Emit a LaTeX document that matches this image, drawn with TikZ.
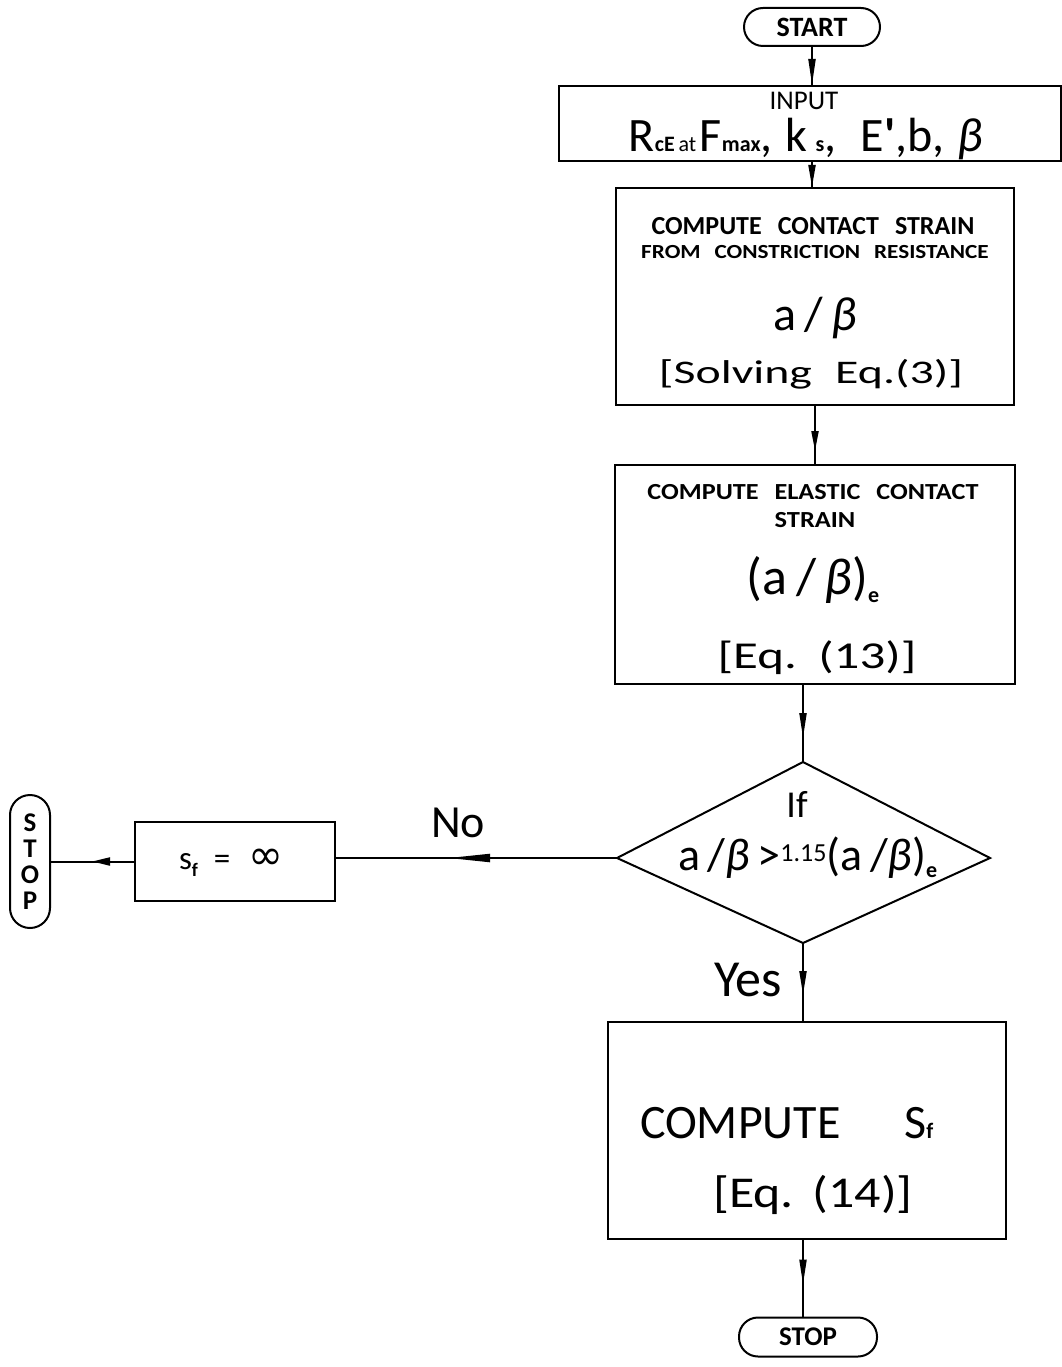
\documentclass[tikz,border=0pt]{standalone}
\usepackage{graphicx}
\usepackage{fontspec}
\setmainfont{Carlito}
\newfontfamily\djv{DejaVu Sans}
\newfontfamily\plainq{Carlito}
\usetikzlibrary{shapes.geometric,arrows.meta,decorations.markings}
\newcommand\fsz[1]{\fontsize{#1}{#1}\selectfont}
\newcommand\wx[2]{\scalebox{#1}[1]{#2}}
\begin{document}
\begin{tikzpicture}[x=1pt,y=-1pt,line width=2pt,
  box/.style={draw,rectangle,inner sep=0pt},
  term/.style={draw,rectangle,rounded corners=#1,inner sep=0pt},
  txt/.style={inner sep=0pt},
  arr/.style n args={3}{postaction={decorate,decoration={markings,
      mark=at position #1 with {\arrow{Triangle[length=#2,width=#3]}}}}}]
\useasboundingbox (0,0) rectangle (1061,1367);

% terminals
\node[term=19pt,minimum width=136pt,minimum height=38pt] (start) at (812,27) {\fsz{28}\bfseries START};
\node[term=19pt,minimum width=138pt,minimum height=39pt] (stop) at (808,1337) {\fsz{27}\bfseries STOP};
\node[term=20pt,minimum width=40pt,minimum height=133pt,align=center,
      font=\fontsize{27}{26}\selectfont\bfseries] (stopv) at (30,861.5) {S\\T\\O\\P};

% input
\node[box,minimum width=502pt,minimum height=75pt] (input) at (810,123.5) {};
\node[txt] (inputlbl) at (804,101) {\fsz{27}INPUT};
\node[txt,anchor=base] (inputformula) at (806,152)
  {\fsz{48}R{\fsz{22}\bfseries cE\,\mdseries at\,}F{\fsz{22}\bfseries max},\;k\,{\fsz{22}\bfseries s},\; E{\plainq\bfseries '},b,\;\textit{β}};

% box 1
\node[box,minimum width=398pt,minimum height=217pt] (b1) at (815,296.5) {};
\node[txt] (b1l1) at (813,226) {\fsz{26}\bfseries COMPUTE\hspace{16pt}CONTACT\hspace{16pt}STRAIN};
\node[txt] (b1l2) at (815,252) {\wx{1.16}{\fsz{20}\bfseries FROM\hspace{12pt}CONSTRICTION\hspace{12pt}RESISTANCE}};
\node[txt,anchor=base] (b1l3) at (815,330) {\fsz{48}a\,/\,\textit{β}};
\node[txt,anchor=base] (b1l4) at (811,383) {\wx{1.45}{\fsz{33}[Solving\hspace{16pt}Eq.(3)]}};

% box 2
\node[box,minimum width=400pt,minimum height=219pt] (b2) at (815,574.5) {};
\node[txt] (b2l1) at (813,492.5) {\wx{1.14}{\fsz{23}\bfseries COMPUTE\hspace{14pt}ELASTIC\hspace{14pt}CONTACT}};
\node[txt] (b2l2) at (815,520.5) {\wx{1.15}{\fsz{23}\bfseries STRAIN}};
\node[txt,anchor=base] (b2l3) at (813,594) {\fsz{52}(a\,/\,\textit{β})\raisebox{-8pt}{\fsz{22}\bfseries e}};
\node[txt,anchor=base] (b2l4) at (817,668) {\wx{1.34}{\fsz{38}[Eq.\hspace{16pt}(13)]}};

% decision
\coordinate (dtop) at (803,762);
\coordinate (dright) at (990,858);
\coordinate (dbot) at (803,943);
\coordinate (dleft) at (617,858);
\draw (dtop) -- (dright) -- (dbot) -- (dleft) -- cycle;
\node[txt,anchor=base] (iflbl) at (797,817) {\fsz{38}If};
\node[txt,anchor=base west] (cond) at (677,870)
  {\fsz{46}a\,/\textit{β}\,>\raisebox{9pt}{\fsz{26}1.15}(a\,/\textit{β})\raisebox{-7pt}{\fsz{22}\bfseries e}};

% s_f = infinity
\node[box,minimum width=200pt,minimum height=79pt] (sf) at (235,861.5) {};
\node[txt,anchor=base west] (sflbl) at (178,869)
  {\fsz{33}s\raisebox{-7pt}{\fsz{19}\bfseries f}\hspace{16pt}=\hspace{18pt}{\djv\fsz{42}∞}};

% box 3
\node[box,minimum width=398pt,minimum height=217pt] (b3) at (806.5,1130.5) {};
\node[txt,anchor=base west] (b3l1) at (639,1138) {\fsz{48}COMPUTE\hspace{64pt}S{\fsz{22}\bfseries f}};
\node[txt,anchor=base] (b3l2) at (813,1207) {\wx{1.18}{\fsz{44}[Eq.\hspace{16pt}(14)]}};

% labels
\node[txt] (nolbl) at (458,823) {\fsz{46}No};
\node[txt] (yeslbl) at (748,980) {\fsz{52}Yes};

% connectors
\draw[arr={1}{26pt}{7pt}] (start.south) -- (start.south |- input.north);
\draw[arr={1}{22pt}{7pt}] (start.south |- input.south) -- (start.south |- b1.north);
\draw[arr={-13pt}{20pt}{7pt}] (b1.south) -- (b2.north);
\draw[arr={-24pt}{25pt}{7pt}] ([xshift=-12pt]b2.south) -- (dtop);
\draw[arr={-26pt}{24pt}{7pt}] (dbot) -- (dbot |- b3.north);
\draw[arr={-32pt}{25pt}{7pt}] ([xshift=-3.5pt]b3.south) -- ([xshift=-3.5pt]b3.south |- stop.north);
\draw[arr={-112pt}{42pt}{8pt}] (dleft) -- (dleft -| sf.east);
\draw[arr={-41pt}{18pt}{8pt}] (sf.west) -- (sf.west -| stopv.east);
\end{tikzpicture}
\end{document}
